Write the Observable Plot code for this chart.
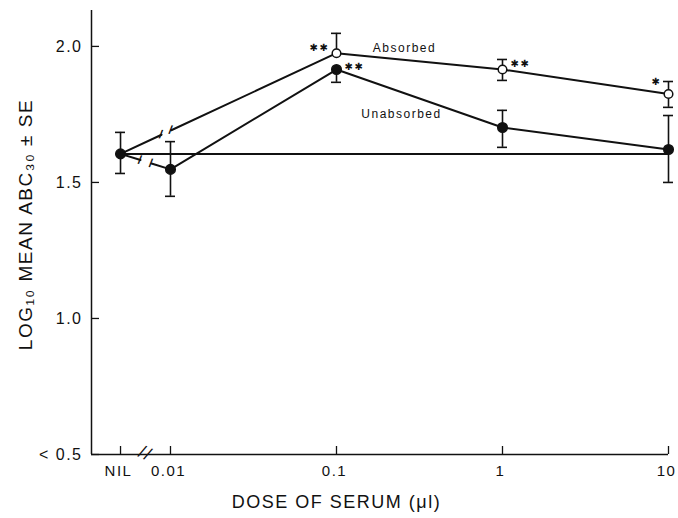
<!DOCTYPE html>
<html><head><meta charset="utf-8">
<script src="https://cdn.jsdelivr.net/npm/d3@7"></script>
<script src="https://cdn.jsdelivr.net/npm/@observablehq/plot@0.6"></script>
<style>body{margin:0;background:#fff} svg{display:block}</style>
</head><body><div id="chart"></div>
<script>
// ---- data ----
const doseLabels = ["NIL", "0.01", "0.1", "1", "10"];
const doseValues = [0.005, 0.01, 0.1, 1, 10]; // NIL column sits left of the axis break
const absorbedMean   = [1.605, null, 1.975, 1.915, 1.825];
const absorbedLow    = [null,  null, null,  1.875, 1.776];
const absorbedHigh   = [null,  null, 2.048, 1.952, 1.871];
const unabsorbedMean = [1.605, 1.548, 1.915, 1.702, 1.621];
const unabsorbedLow  = [1.533, 1.449, 1.868, 1.629, 1.500];
const unabsorbedHigh = [1.684, 1.650, null,  1.765, 1.746];
const absorbedSig    = ["", "", "**", "**", "*"];
const unabsorbedSig  = ["", "", "**", "", ""];
const baselineValue = 1.605;
const yTicks = [0.5, 1.0, 1.5, 2.0];
const yTickLabels = ["< 0.5", "1.0", "1.5", "2.0"];
const xTitle = "DOSE OF SERUM (\u03bcl)";
const yTitle = "LOG\u2081\u2080 MEAN ABC\u2083\u2080 \u00b1 SE";

// ---- build tables ----
const rows = (series, mean, lo, hi, sig) => doseLabels.map((d, i) => ({
  series, dose: d, x: doseValues[i], y: mean[i], lo: lo[i], hi: hi[i], sig: sig[i]
})).filter(r => r.y != null);
const abs = rows("Absorbed", absorbedMean, absorbedLow, absorbedHigh, absorbedSig);
const unabs = rows("Unabsorbed", unabsorbedMean, unabsorbedLow, unabsorbedHigh, unabsorbedSig);
const all = abs.concat(unabs);

// interpolation along a segment in log-x space (straight on screen)
const along = (p, q, t) => ({
  x: Math.pow(10, Math.log10(p.x) + t * (Math.log10(q.x) - Math.log10(p.x))),
  y: p.y + t * (q.y - p.y)
});
// broken first segment (from NIL) for each series
function brokenLine(series, t0, t1) {
  const a = series[0], b = series[1];
  const g0 = along(a, b, t0), g1 = along(a, b, t1);
  return {
    pieces: [
      [a, g0].map(p => ({...p, part: 0})),
      [g1, ...series.slice(1)].map(p => ({...p, part: 1}))
    ].flat(),
    marks: [g0, g1]
  };
}
const absLine = brokenLine(abs, 0.19, 0.235);
const unabsLine = brokenLine(unabs, 0.40, 0.62);

const xMin = 0.003343, yMax = 2.132;
const ink = "#111";
const star = s => s.replace(/\*/g, "\u2731");

const sigMark = (r, dx, dy) => Plot.text([r], {x: "x", y: "y", text: d => star(d.sig), dx, dy,
  fontFamily: "DejaVu Sans", fontSize: 10, fill: ink});

const plot = Plot.plot({
  width: 678, height: 518,
  marginLeft: 91, marginRight: 10, marginTop: 10, marginBottom: 64,
  x: {type: "log", domain: [xMin, 10], axis: null},
  y: {domain: [0.5, yMax], axis: null},
  style: {fontFamily: "Liberation Sans, Arial, sans-serif", background: "#fff", color: ink, letterSpacing: "1.5px"},
  marks: [
    // axes
    Plot.ruleX([xMin], {stroke: ink, strokeWidth: 1.5}),
    Plot.ruleY([0.5], {x1: xMin, x2: 10, stroke: ink, strokeWidth: 1.5}),
    Plot.ruleY(yTicks, {y: d => d, x1: xMin, x2: xMin, insetRight: -8, stroke: ink, strokeWidth: 1.3}),
    Plot.ruleX(doseValues, {x: d => d, y1: 0.5, y2: 0.5, insetTop: -8, stroke: ink, strokeWidth: 1.3}),
    Plot.text(yTicks, {x: xMin, y: d => d, text: (d, i) => yTickLabels[i], textAnchor: "end", dx: -9, fontSize: 16, fill: ink}),
    Plot.text(doseLabels, {x: doseValues, y: 0.5, text: d => d, dx: -2, dy: 17, fontSize: 15, fill: ink}),
    Plot.text(["//"], {x: Math.sqrt(doseValues[0] * doseValues[1]), y: 0.5, text: d => d, fontSize: 18, rotate: 25, fill: ink, dy: -1}),
    Plot.text([xTitle], {x: doseValues[2], y: 0.5, text: d => d, dy: 48, fontSize: 18, fill: ink}),
    Plot.text([yTitle], {frameAnchor: "left", textAnchor: "middle", text: d => d, rotate: -90, dx: -66, dy: -8, fontSize: 19, fill: ink}),
    // baseline
    Plot.ruleY([baselineValue], {x1: doseValues[0], x2: doseValues[4], stroke: ink, strokeWidth: 2}),
    // series lines with break
    Plot.line(absLine.pieces, {x: "x", y: "y", z: "part", stroke: ink, strokeWidth: 2}),
    Plot.line(unabsLine.pieces, {x: "x", y: "y", z: "part", stroke: ink, strokeWidth: 2}),
    Plot.text(absLine.marks.concat(unabsLine.marks), {x: "x", y: "y", text: () => "/", fontSize: 12, fontWeight: "bold", fill: ink, rotate: 10}),
    // error bars
    Plot.ruleX(all.filter(r => r.lo != null), {x: "x", y1: "y", y2: "lo", stroke: ink, strokeWidth: 1.6}),
    Plot.ruleX(all.filter(r => r.hi != null), {x: "x", y1: "y", y2: "hi", stroke: ink, strokeWidth: 1.6}),
    Plot.ruleY(all.filter(r => r.lo != null), {y: "lo", x1: "x", x2: "x", insetLeft: -5, insetRight: -5, stroke: ink, strokeWidth: 1.6}),
    Plot.ruleY(all.filter(r => r.hi != null), {y: "hi", x1: "x", x2: "x", insetLeft: -5, insetRight: -5, stroke: ink, strokeWidth: 1.6}),
    // points
    Plot.dot(unabs, {x: "x", y: "y", r: 4.8, fill: ink, stroke: ink}),
    Plot.dot(abs.filter(r => r.dose !== "NIL"), {x: "x", y: "y", r: 4.3, fill: "#fff", stroke: ink, strokeWidth: 1.5}),
    // series labels
    Plot.text(abs.filter(r => r.dose === "0.1"), {x: "x", y: "y", text: "series", dx: 68, dy: -5, fontSize: 12, fill: ink}),
    Plot.text(unabs.filter(r => r.dose === "0.1"), {x: "x", y: "y", text: "series", dx: 65, dy: 45, fontSize: 12, fill: ink}),
    // significance marks
    sigMark(abs.find(r => r.dose === "0.1"), -17, -5),
    sigMark(unabs.find(r => r.dose === "0.1"), 18, -3),
    sigMark(abs.find(r => r.dose === "1"), 18, -6),
    sigMark(abs.find(r => r.dose === "10"), -12, -12)
  ]
});
document.getElementById("chart").appendChild(plot);
</script>
</body></html>
